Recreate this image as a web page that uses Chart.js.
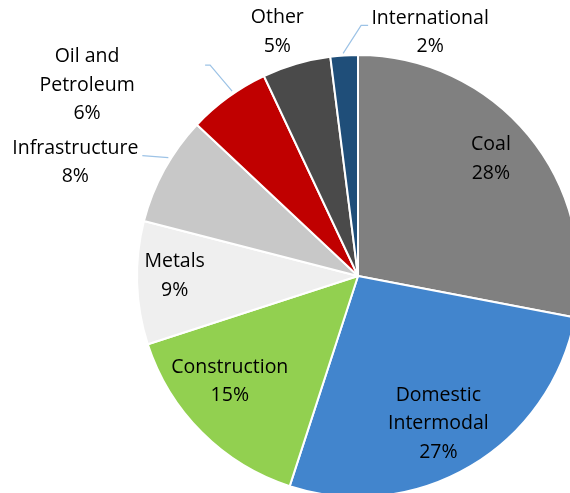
<!DOCTYPE html>
<html>
<head>
<meta charset="utf-8">
<script src="https://cdn.jsdelivr.net/npm/chart.js@4"></script>
<style>
  html, body { margin: 0; padding: 0; background: #fff; overflow: hidden; width: 570px; height: 493px; }
  #wrap { position: absolute; left: 0; top: 0; }
</style>
</head>
<body>
<div id="wrap"><canvas id="chart" width="716" height="552"></canvas></div>
<script>
  const categories = ["Coal", "Domestic\nIntermodal", "Construction", "Metals", "Infrastructure", "Oil and\nPetroleum", "Other", "International"];
  const shares = [28, 27, 15, 9, 8, 6, 5, 2];
  const colors = ["#808080", "#4285CD", "#92D050", "#EFEFEF", "#C8C8C8", "#C00000", "#4A4A4A", "#1F4E79"];

  // label placement: inside labels sit at a fraction of the radius (plus a nudge),
  // outside ones get an offset from the slice's outer edge plus a leader line
  const inside = {
    0: { r: 0.81, dx: -5, dy: -3 },
    1: { r: 0.75, dx: -4, dy: 5 },
    2: { r: 0.75, dx: -11, dy: -12 },
    3: { r: 0.83, dx: 0, dy: -6 },
  };
  const outside = {
    4: { dx: -89, dy: -7, lead: [[4, -12], [-22, -14]] },
    5: { dx: -141, dy: -12, lead: [[4, -6], [-18, -32], [-23, -32]] },
    6: { dx: -19, dy: -32, lead: null },
    7: { dx: 86, dy: -23, lead: [[-1, -2], [17, -30], [24, -30]] },
  };

  const FONT = '19.5px "Open Sans", sans-serif';
  const LINE_H = 28.5;

  const pieLabels = {
    id: "pieLabels",
    afterDatasetsDraw(chart) {
      const ctx = chart.ctx;
      const meta = chart.getDatasetMeta(0);
      ctx.save();
      ctx.font = FONT;
      ctx.fillStyle = "#000";
      ctx.textAlign = "center";
      ctx.textBaseline = "middle";
      meta.data.forEach((arc, i) => {
        const { x, y, startAngle, endAngle, outerRadius } = arc.getProps(["x", "y", "startAngle", "endAngle", "outerRadius"], true);
        const mid = (startAngle + endAngle) / 2;
        const lines = categories[i].split("\n").concat(shares[i] + "%");
        let cx, cy;
        if (inside[i]) {
          const p = inside[i];
          cx = x + Math.cos(mid) * outerRadius * p.r + p.dx;
          cy = y + Math.sin(mid) * outerRadius * p.r + p.dy;
        } else {
          const ex = x + Math.cos(mid) * outerRadius;
          const ey = y + Math.sin(mid) * outerRadius;
          const o = outside[i];
          cx = ex + o.dx;
          cy = ey + o.dy;
          if (o.lead) {
            ctx.strokeStyle = "#9DC3E6";
            ctx.lineWidth = 1.2;
            ctx.beginPath();
            o.lead.forEach((p, k) => {
              if (k === 0) ctx.moveTo(ex + p[0], ey + p[1]);
              else ctx.lineTo(ex + p[0], ey + p[1]);
            });
            ctx.stroke();
          }
        }
        const top = cy - (lines.length - 1) * LINE_H / 2;
        lines.forEach((t, k) => ctx.fillText(t, cx, top + k * LINE_H));
      });
      ctx.restore();
    },
  };

  new Chart(document.getElementById("chart"), {
    type: "pie",
    data: {
      labels: categories,
      datasets: [{
        data: shares,
        backgroundColor: colors,
        borderColor: "#fff",
        borderWidth: 2,
      }],
    },
    options: {
      responsive: false,
      animation: false,
      radius: 221,
      layout: { padding: 0 },
      plugins: { legend: { display: false }, tooltip: { enabled: false } },
    },
    plugins: [pieLabels],
  });
</script>
</body>
</html>
